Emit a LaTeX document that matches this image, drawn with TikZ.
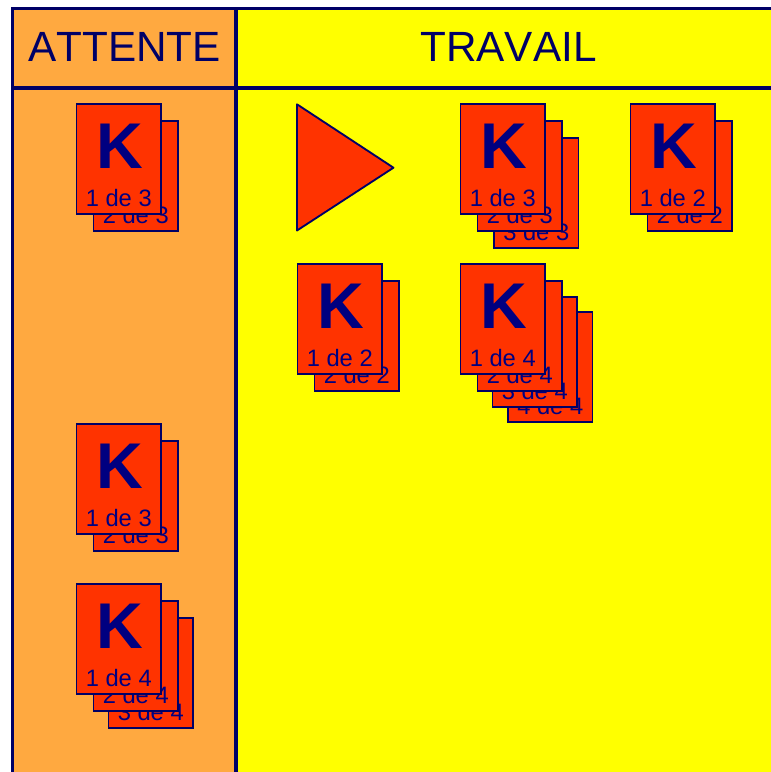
\documentclass[tikz,border=0pt]{standalone}
\usepackage{fontspec}
\setmainfont{Liberation Sans}[Kerning=Off]
\usepackage{xcolor}
\definecolor{bordercol}{HTML}{000066}
\definecolor{inkcol}{HTML}{000080}
\definecolor{cardcol}{HTML}{FF3300}
\definecolor{waitcol}{HTML}{FFA940}
\definecolor{workcol}{HTML}{FFFF00}
\tikzset{
    card/.style={draw=bordercol, fill=cardcol, line width=1.4pt, anchor=north west, inner sep=0pt, outer sep=0pt,
        minimum width=63.4pt, minimum height=82pt,
        label={[cardtext]south:#1}},
    cardtext/.style={anchor=base, inner sep=0pt, yshift=5.3pt, text=inkcol, font=\fontsize{17.8}{19}\selectfont},
    kletter/.style={anchor=base, inner sep=0pt, xshift=1pt, text=inkcol, font=\fontsize{48.5}{50}\selectfont\bfseries},
    title/.style={inner sep=0pt, text=bordercol, font=\fontsize{31.7}{34}\selectfont},
    rule/.style={draw=bordercol, line width=2.7pt},
}
\begin{document}
\begin{tikzpicture}[x=0.75pt,y=-0.75pt]
    \useasboundingbox (0,0) rectangle (771,772);
    % columns
    \fill[waitcol] (12.5,8.5) rectangle (236,772);
    \fill[workcol] (236,8.5) rectangle (771,772);
    \coordinate (topleft) at (12.5,8.5);
    \coordinate (topright) at (771,8.5);
    \coordinate (botleft) at (12.5,772);
    \coordinate (midtop) at (236,8.5);
    \coordinate (midbot) at (236,772);
    \coordinate (headleft) at (12.5,88);
    \coordinate (headright) at (771,88);
    \draw[rule] (botleft) -- (topleft) -- (topright);
    \draw[rule] (midtop) -- (midbot);
    \draw[rule] (headleft) -- (headright);
    \node[title] (attente) at (124.5,47) {ATTENTE};
    \node[title] (travail) at (508.5,47) {TRAVAIL};
    % waiting column
    \node[card={2 de 3}] (a2) at (93.5,121.3) {};
    \node[card={1 de 3}] (a1) at (76.5,104.3) {};
    \node[kletter] (ak) at ([yshift=34pt]a1.south) {K};
    \node[card={2 de 3}] (b2) at (93.5,441.3) {};
    \node[card={1 de 3}] (b1) at (76.5,424.3) {};
    \node[kletter] (bk) at ([yshift=34pt]b1.south) {K};
    \node[card={3 de 4}] (c3) at (108.5,618.3) {};
    \node[card={2 de 4}] (c2) at (93.5,601.3) {};
    \node[card={1 de 4}] (c1) at (76.5,584.3) {};
    \node[kletter] (ck) at ([yshift=34pt]c1.south) {K};
    % work column
    \draw[draw=bordercol, fill=cardcol, line width=1.4pt, line join=round] (297,104.3) -- (297,230.5) -- (393.5,167.7) -- cycle;
    \node[card={3 de 3}] (d3) at (494,138.3) {};
    \node[card={2 de 3}] (d2) at (477.5,121.3) {};
    \node[card={1 de 3}] (d1) at (460.5,104.3) {};
    \node[kletter] (dk) at ([yshift=34pt]d1.south) {K};
    \node[card={2 de 2}] (e2) at (647.5,121.3) {};
    \node[card={1 de 2}] (e1) at (630.5,104.3) {};
    \node[kletter] (ek) at ([yshift=34pt]e1.south) {K};
    \node[card={2 de 2}] (f2) at (314.5,281.3) {};
    \node[card={1 de 2}] (f1) at (297.5,264.3) {};
    \node[kletter] (fk) at ([yshift=34pt]f1.south) {K};
    \node[card={4 de 4}] (g4) at (508,312.3) {};
    \node[card={3 de 4}] (g3) at (492.5,297.3) {};
    \node[card={2 de 4}] (g2) at (477.5,281.3) {};
    \node[card={1 de 4}] (g1) at (460.5,264.3) {};
    \node[kletter] (gk) at ([yshift=34pt]g1.south) {K};
\end{tikzpicture}
\end{document}
